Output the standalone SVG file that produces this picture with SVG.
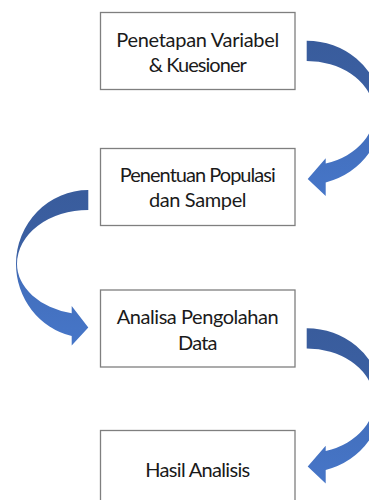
<svg xmlns="http://www.w3.org/2000/svg" width="369" height="500" viewBox="0 0 369 500">
  <style>
    .box { fill: #ffffff; stroke: #7f7f7f; stroke-width: 1.3; }
    .lbl { font-family: Lato, "Liberation Sans", sans-serif; font-size: 20px; fill: #1a1a1a; text-anchor: middle; }
    .arrow { fill: url(#blueGrad); }
  </style>
  <defs>
    <linearGradient id="blueGrad" x1="0" y1="0" x2="0" y2="1">
      <stop offset="0" stop-color="#395c9c"/>
      <stop offset="0.4" stop-color="#3b60a3"/>
      <stop offset="0.6" stop-color="#436fbd"/>
      <stop offset="1" stop-color="#4676c8"/>
    </linearGradient>
    <path id="rightArrow" d="M306.7,40.7 A75,72 0 0 1 325.7,182.4 L325.7,196 L307.7,179 L325.7,158.3 L325.7,163.5 A67.4,52.3 0 0 0 306.7,61 Z"/>
  </defs>

  <g id="connectors">
    <use href="#rightArrow" class="arrow"/>
    <path class="arrow" d="M88.3,190 A72.3,74 0 0 0 16,264 A72.3,74 0 0 0 71.7,336 L71.7,345.5 L88.3,327.5 L71.7,306 L71.7,313.3 A71.3,50.7 0 0 1 17,264 A71.3,54 0 0 1 88.3,210 Z"/>
    <use href="#rightArrow" class="arrow" transform="translate(0,287.5)"/>
  </g>

  <g id="node1">
    <rect class="box" x="100.5" y="12.5" width="194.5" height="77"/>
    <text class="lbl" x="197.75" y="46.7" textLength="163">Penetapan Variabel</text>
    <text class="lbl" x="197.75" y="71.7" textLength="98">&amp; Kuesioner</text>
  </g>

  <g id="node2">
    <rect class="box" x="100.5" y="148.5" width="194.5" height="77"/>
    <text class="lbl" x="197.75" y="181.7" textLength="156">Penentuan Populasi</text>
    <text class="lbl" x="197.75" y="206.7" textLength="97.6">dan Sampel</text>
  </g>

  <g id="node3">
    <rect class="box" x="100.5" y="290" width="194.5" height="77"/>
    <text class="lbl" x="197.75" y="324" textLength="162">Analisa Pengolahan</text>
    <text class="lbl" x="197.75" y="350" textLength="39.3">Data</text>
  </g>

  <g id="node4">
    <rect class="box" x="100.5" y="430.5" width="194.5" height="77"/>
    <text class="lbl" x="197.75" y="476.7" textLength="105">Hasil Analisis</text>
  </g>
</svg>
